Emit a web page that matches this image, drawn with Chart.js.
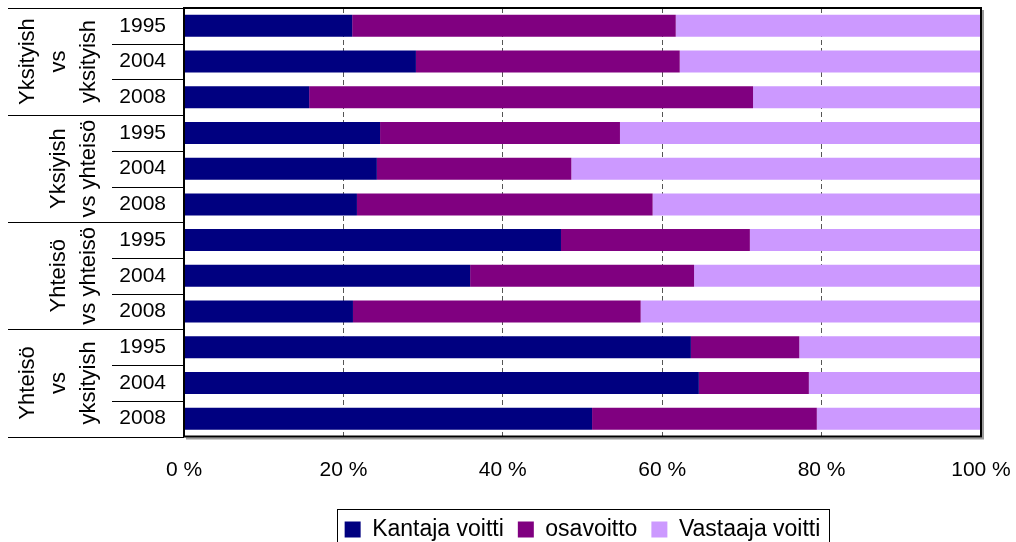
<!DOCTYPE html>
<html>
<head>
<meta charset="utf-8">
<script src="https://cdn.jsdelivr.net/npm/chart.js@4.4.1/dist/chart.umd.min.js"></script>
<style>
  html, body { margin: 0; padding: 0; background: #ffffff; }
  #wrap { width: 1016px; height: 542px; }
</style>
</head>
<body>
<div id="wrap"><canvas id="c" width="1016" height="542"></canvas></div>
<script>
// ---- Data ----
const years = ["1995", "2004", "2008", "1995", "2004", "2008", "1995", "2004", "2008", "1995", "2004", "2008"];
const groupNames = [
  ["Yksityish", "vs", "yksityish"],
  ["Yksiyish", "vs yhteisö"],
  ["Yhteisö", "vs yhteisö"],
  ["Yhteisö", "vs", "yksityish"]
];
const groupSizes = [3, 3, 3, 3];
const seriesNames = ["Kantaja voitti", "osavoitto", "Vastaaja voitti"];
const kantajaVoitti   = [21.1, 29.1, 15.7, 24.6, 24.2, 21.7, 47.3, 35.9, 21.2, 63.6, 64.6, 51.2];
const osavoitto       = [40.6, 33.1, 55.7, 30.1, 24.4, 37.1, 23.7, 28.1, 36.1, 13.6, 13.8, 28.2];
const vastaajaVoitti  = [38.3, 37.8, 28.6, 45.3, 51.4, 41.2, 29.0, 36.0, 42.7, 22.8, 21.6, 20.6];
const xTicks = [0, 20, 40, 60, 80, 100];
const seriesColors = ["#000080", "#800080", "#CC99FF"];

const FONT = "'Liberation Sans', Arial, sans-serif";

const tablePlugin = {
  id: 'tablePlugin',
  afterDraw(chart) {
    const { ctx, chartArea: a, scales: { y } } = chart;
    const n = years.length;
    const rowY = (k) => {
      if (k === 0) return a.top;
      if (k === n) return a.bottom;
      return (y.getPixelForValue(k - 1) + y.getPixelForValue(k)) / 2;
    };
    const bounds = [0];
    groupSizes.forEach(s => bounds.push(bounds[bounds.length - 1] + s));
    ctx.save();
    ctx.strokeStyle = '#000';
    ctx.lineWidth = 1;
    for (let k = 0; k <= n; k++) {
      const yy = Math.round(rowY(k)) + 0.5;
      const x0 = bounds.includes(k) ? 8 : 112;
      ctx.beginPath();
      ctx.moveTo(x0, yy);
      ctx.lineTo(a.left, yy);
      ctx.stroke();
    }
    // plot border shadow
    ctx.strokeStyle = '#9a9a9a';
    ctx.lineWidth = 2;
    ctx.beginPath();
    ctx.moveTo(a.left + 2, a.bottom + 2);
    ctx.lineTo(a.right + 2, a.bottom + 2);
    ctx.lineTo(a.right + 2, a.top + 2);
    ctx.stroke();
    // plot border
    ctx.strokeStyle = '#000';
    ctx.lineWidth = 2;
    ctx.strokeRect(a.left, a.top, a.right - a.left, a.bottom - a.top);

    // group labels
    ctx.fillStyle = '#000';
    ctx.font = "22px " + FONT;
    ctx.textAlign = 'center';
    ctx.textBaseline = 'alphabetic';
    groupNames.forEach((lines, g) => {
      const yTop = rowY(bounds[g]);
      const yBot = rowY(bounds[g + 1]);
      const cy = (yTop + yBot) / 2;
      const m = lines.length;
      lines.forEach((txt, i) => {
        const bx = 95 - (m - 1 - i) * 30.5;
        ctx.save();
        ctx.translate(bx, cy);
        ctx.rotate(-Math.PI / 2);
        ctx.fillText(txt, 0, 0);
        ctx.restore();
      });
    });

    // legend frame
    const lg = chart.legend;
    if (lg && lg.legendHitBoxes && lg.legendHitBoxes.length) {
      const hb = lg.legendHitBoxes;
      const left = hb[0].left - 8;
      const last = hb[hb.length - 1];
      const right = last.left + last.width + 8;
      ctx.strokeStyle = '#000';
      ctx.lineWidth = 1;
      ctx.strokeRect(Math.round(left) + 0.5, 509.5, Math.round(right - left), 60);
    }
    ctx.restore();
  }
};

new Chart(document.getElementById('c'), {
  type: 'bar',
  data: {
    labels: years,
    datasets: [
      { label: seriesNames[0], data: kantajaVoitti, backgroundColor: seriesColors[0], borderColor: seriesColors[0], borderWidth: 0 },
      { label: seriesNames[1], data: osavoitto, backgroundColor: seriesColors[1], borderColor: seriesColors[1], borderWidth: 0 },
      { label: seriesNames[2], data: vastaajaVoitti, backgroundColor: seriesColors[2], borderColor: seriesColors[2], borderWidth: 0 }
    ]
  },
  options: {
    indexAxis: 'y',
    responsive: false,
    animation: false,
    devicePixelRatio: 1,
    barPercentage: 0.615,
    categoryPercentage: 1.0,
    layout: { padding: { left: 0, right: 35, top: 8, bottom: -9 } },
    scales: {
      x: {
        stacked: true,
        min: 0,
        max: 100,
        afterBuildTicks(scale) { scale.ticks = xTicks.map(v => ({ value: v })); },
        afterFit(scale) {
          scale.height = 67.5;
          scale.paddingLeft = 0;
          scale.paddingRight = 0;
        },
        grid: {
          display: true,
          drawTicks: false,
          lineWidth: 1,
          color: (c) => (c.tick && (c.tick.value === 0 || c.tick.value === 100)) ? 'rgba(0,0,0,0)' : '#555555'
        },
        border: { display: false, dash: [5, 3] },
        ticks: {
          padding: 21,
          color: '#000',
          font: { family: FONT, size: 21 },
          maxRotation: 0,
          callback: (v) => v + ' %'
        }
      },
      y: {
        stacked: true,
        afterFit(scale) {
          scale.width = 184;
          scale.paddingTop = 0;
          scale.paddingBottom = 0;
        },
        grid: { display: false, drawTicks: false },
        border: { display: false },
        ticks: {
          padding: 18,
          color: '#000',
          font: { family: FONT, size: 21 }
        }
      }
    },
    plugins: {
      legend: {
        display: true,
        position: 'bottom',
        fullSize: false,
        labels: {
          boxWidth: 16,
          boxHeight: 16,
          padding: 14,
          color: '#000',
          font: { family: FONT, size: 23 }
        }
      },
      tooltip: { enabled: false },
      title: { display: false }
    }
  },
  plugins: [tablePlugin]
});
</script>
</body>
</html>
